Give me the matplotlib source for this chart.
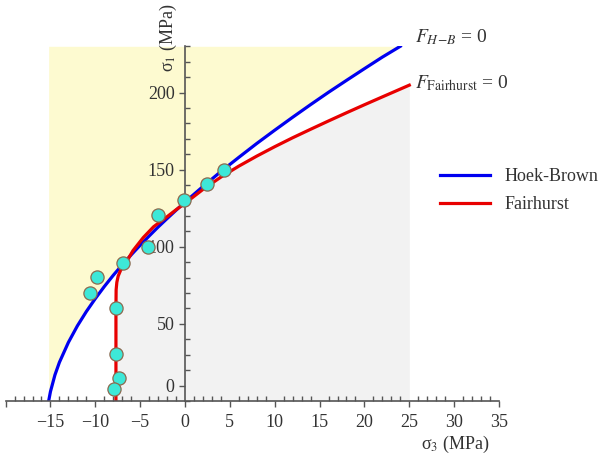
import matplotlib.pyplot as plt
from matplotlib.ticker import FixedLocator

# Hoek-Brown envelope (sigma3, sigma1)
hb_x = [-15.2, -15.0, -14.5, -14, -13, -12, -11, -10, -9, -8, -7, -6, -5, -4, -3, -2, -1,
        0, 2, 4, 6, 8, 10, 12, 14, 16, 18, 20, 22, 24]
hb_y = [0, 6.1, 16.9, 25.1, 38.0, 48.7, 58.0, 66.4, 74.2, 81.5, 88.3, 94.8, 101.0, 107.0,
        112.8, 118.3, 123.7, 129, 139.1, 148.8, 158.0, 167.0, 175.6, 184.0, 192.2, 200.2,
        207.9, 215.5, 223.0, 230]

# Fairhurst envelope
fh_x = [-7.7, -7.7, -7.68, -7.6, -7.45, -7.2, -6.9, -6.5, -5.8, -4.65, -3.5, -2.0, -1,
        0, 2, 4, 6, 8, 10, 12, 14, 16, 18, 20, 22, 25]
fh_y = [0, 60, 72, 77, 81, 84.5, 87.5, 90.5, 97.5, 106, 113, 119.5, 124,
        128.2, 137.2, 145.2, 152.3, 158.8, 164.9, 170.7, 176.2, 181.6, 186.9, 192.1, 197.2, 204.8]

# test data
pts_x = [4.3, 2.5, -0.1, -3.0, -4.1, -6.9, -9.8, -10.6, -7.7, -7.7, -7.4, -7.9]
pts_y = [149.8, 140.5, 130.4, 120.5, 100, 89.7, 80.2, 69.8, 60.1, 30.5, 15.1, 7.8]

ytick_pos = [10, 50, 100, 150, 200]
ytick_lab = ['0', '50', '100', '150', '200']

plt.rcParams['font.family'] = ['Liberation Serif', 'DejaVu Serif']
plt.rcParams['mathtext.fontset'] = 'stix'

fig = plt.figure(figsize=(6.01, 4.65), dpi=100)
ax = fig.add_axes([5.6 / 601, 64 / 465, 493.4 / 601, 354.7 / 465])
ax.set_xlim(-20, 35)
ax.set_ylim(0, 230)
ax.patch.set_alpha(0)

ax.fill_between(fh_x, 0, fh_y, color='#f2f2f2', lw=0, zorder=0.5)
ax.fill_between(hb_x, hb_y, 230, color='#fdfad0', lw=0, zorder=0.6)

ax.plot(hb_x, hb_y, color='#0000f0', lw=2.3, label='Hoek-Brown', zorder=2)
ax.plot(fh_x, fh_y, color='#e80000', lw=2.3, label='Fairhurst', zorder=2.1)
ax.plot(pts_x, pts_y, 'o', ms=9.5, mfc='#3de8d8', mec='#8a6a50', mew=0.9, zorder=4, clip_on=False)

for s in ['top', 'right']:
    ax.spines[s].set_visible(False)
ax.spines['left'].set_position(('data', 0))
for s in ['left', 'bottom']:
    ax.spines[s].set_color('#555555')
    ax.spines[s].set_linewidth(1.2)
    ax.spines[s].set_zorder(3)

ax.set_xticks(range(-20, 36, 5))
ax.set_xticklabels([''] + ['%d' % v if v >= 0 else '\u2212%d' % -v for v in range(-15, 36, 5)])
ax.xaxis.set_minor_locator(FixedLocator(range(-20, 36)))
ax.set_yticks(ytick_pos)
ax.set_yticklabels(ytick_lab)
ax.yaxis.set_minor_locator(FixedLocator(range(0, 231, 10)))
ax.tick_params(which='major', direction='out', length=4.5, width=1.0, color='#555555',
               labelsize=13, labelcolor='#333333', pad=3)
ax.tick_params(axis='x', which='major', pad=5)
ax.tick_params(which='minor', direction='in', length=3.5, width=1.0, color='#555555')

fig.text(455 / 601, 1 - 444 / 465, 'σ$_3$ (MPa)', ha='center', va='center', fontsize=13, color='#333333')
fig.text(168 / 601, 1 - 38 / 465, 'σ$_1$ (MPa)', ha='center', va='center', fontsize=13,
         color='#333333', rotation=90)

ax.text(25.6, 236, r'$F_{H\!-\!B}$ = 0', fontsize=14, va='center', ha='left', color='#333333', clip_on=False)
ax.text(25.6, 206, r'$F_{\mathrm{Fairhurst}}$ = 0', fontsize=14, va='center', ha='left', color='#333333', clip_on=False)

ax.legend(loc='center left', bbox_to_anchor=(440 / 601, 1 - 190.5 / 465), bbox_transform=fig.transFigure,
          frameon=False, fontsize=13, handlelength=2.75, handletextpad=0.8, borderpad=0, borderaxespad=0,
          labelspacing=0.6, labelcolor='#333333')

fig.savefig('out.png', dpi=100)
